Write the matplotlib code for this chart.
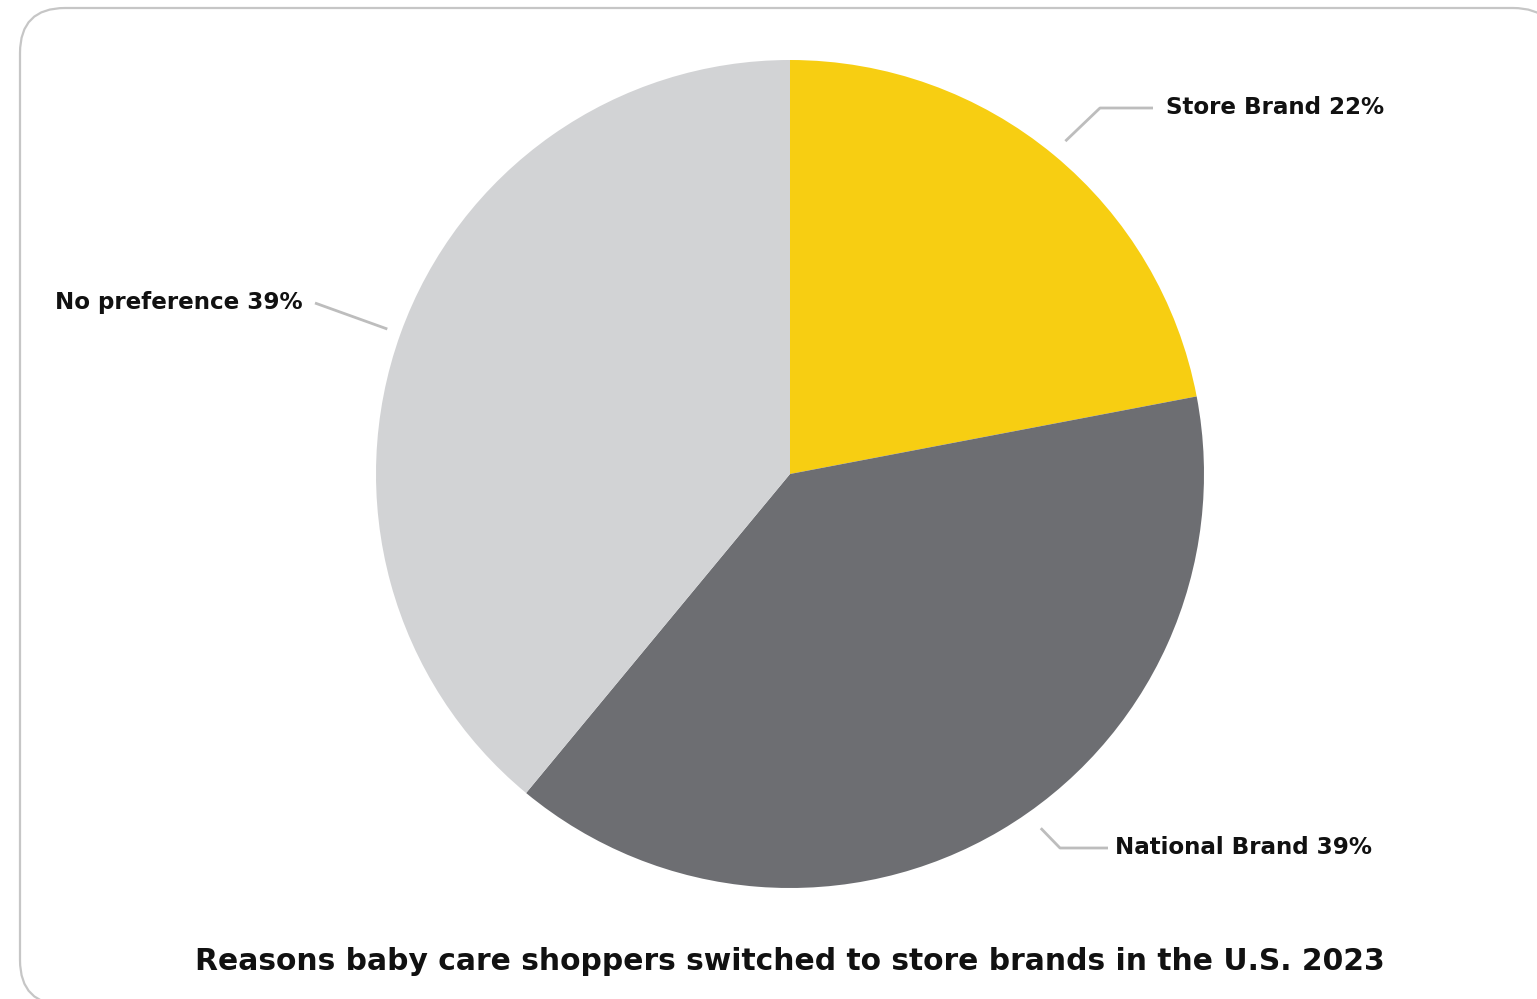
import matplotlib
matplotlib.use("Agg")
import matplotlib.pyplot as plt
from matplotlib.patches import FancyBboxPatch
import numpy as np

# --- DATA ---
categories = ["Store Brand", "National Brand", "No preference"]
shares = [22, 39, 39]
colors = ["#F7CE12", "#6D6E72", "#D2D3D5"]
title = "Reasons baby care shoppers switched to store brands in the U.S. 2023"

W, H = 1537, 999
fig = plt.figure(figsize=(W / 100, H / 100), dpi=100)
ax = fig.add_axes([0, 0, 1, 1])

# rounded card border (right and bottom sides run just past the edge)
card = FancyBboxPatch((20, -6), 1538, 997,
                      boxstyle="round,pad=0,rounding_size=45",
                      fc="white", ec="#C6C6C6", lw=1.6, zorder=0)
ax.add_patch(card)

cx, cy, R = 790, H - 474, 414
wedges, _ = ax.pie(shares, colors=colors, startangle=90, counterclock=False,
                   center=(cx, cy), radius=R, frame=True,
                   wedgeprops=dict(linewidth=0))
ax.set_xlim(0, W)
ax.set_ylim(0, H)
ax.set_aspect("equal")
ax.axis("off")

# leader lines from just outside each wedge to its label
line_color = "#BDBDBD"
font = dict(family="DejaVu Sans", weight="bold", fontsize=16.6, color="#111111")
layout = {
    "Store Brand": dict(dang=0, r0=432, knee=(1100, H - 108), end=(1153, H - 108), gap=13),
    "National Brand": dict(dang=4.7, r0=434, knee=(1060, H - 848), end=(1108, H - 848), gap=7),
    "No preference": dict(dang=0, r0=428, knee=None, end=(315, H - 303), gap=-12),
}
for w, cat, val in zip(wedges, categories, shares):
    L = layout[cat]
    mid = np.deg2rad((w.theta1 + w.theta2) / 2 + L["dang"])
    x0, y0 = cx + L["r0"] * np.cos(mid), cy + L["r0"] * np.sin(mid)
    pts = [(x0, y0)]
    if L["knee"] is not None:
        pts.append(L["knee"])
    pts.append(L["end"])
    xs, ys = zip(*pts)
    ax.plot(xs, ys, color=line_color, lw=2, solid_capstyle="butt", zorder=3)
    ha = "left" if L["gap"] > 0 else "right"
    ax.text(L["end"][0] + L["gap"], L["end"][1], f"{cat} {val}%", ha=ha, va="center", **font)

ax.text(790, H - 962, title, ha="center", va="center",
        family="DejaVu Sans", weight="bold", fontsize=21.4, color="#111111")

fig.savefig("out.png", dpi=100)
